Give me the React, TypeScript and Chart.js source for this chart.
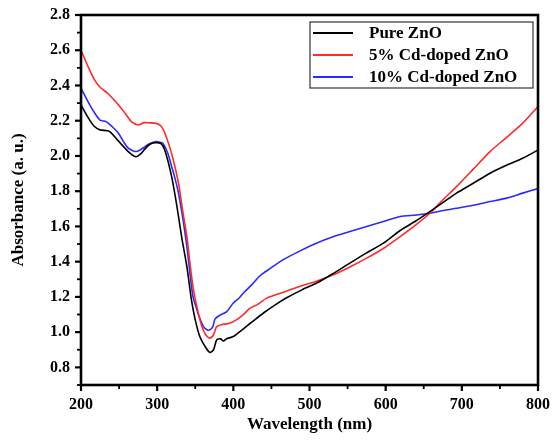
import React, { useEffect, useRef } from "react";
import { Chart, registerables } from "chart.js";

Chart.register(...registerables);

const seriesLabels = ["Pure ZnO", "5% Cd-doped ZnO", "10% Cd-doped ZnO"];
const seriesColors = ["#000000", "#ff2a2a", "#2a2aff"];

const pureWl = [200, 209, 217, 225, 237, 248, 262, 272, 278, 284, 290, 297, 305, 310, 319, 326, 332, 339, 345, 350, 356, 363, 369, 374, 378, 383, 387, 391, 400, 409, 418, 428, 440, 455, 470, 490, 510, 530, 553, 575, 597, 619, 640, 658, 675, 693, 715, 737, 760, 780, 800];
const pureAbs = [2.29, 2.22, 2.17, 2.148, 2.14, 2.09, 2.025, 1.996, 2.01, 2.04, 2.065, 2.075, 2.07, 2.034, 1.883, 1.713, 1.543, 1.372, 1.183, 1.07, 0.975, 0.918, 0.885, 0.9, 0.955, 0.962, 0.95, 0.962, 0.975, 1.005, 1.035, 1.07, 1.11, 1.155, 1.195, 1.24, 1.28, 1.33, 1.392, 1.45, 1.505, 1.577, 1.632, 1.684, 1.735, 1.789, 1.845, 1.902, 1.95, 1.987, 2.034];

const cd5Wl = [200, 210, 218, 225, 235, 245, 253, 260, 266, 275, 283, 290, 299, 305, 310, 315, 321, 328, 334, 339, 343, 347, 352, 358, 363, 369, 374, 378, 384, 395, 404, 412, 422, 431, 444, 465, 487, 510, 531, 553, 575, 597, 619, 640, 658, 675, 693, 715, 737, 760, 780, 800];
const cd5Abs = [2.6, 2.5, 2.43, 2.39, 2.356, 2.31, 2.27, 2.23, 2.195, 2.176, 2.189, 2.188, 2.185, 2.17, 2.13, 2.07, 1.98, 1.845, 1.675, 1.543, 1.392, 1.259, 1.146, 1.042, 0.99, 0.966, 0.985, 1.03, 1.042, 1.05, 1.07, 1.095, 1.136, 1.155, 1.193, 1.225, 1.259, 1.29, 1.325, 1.37, 1.42, 1.475, 1.542, 1.61, 1.675, 1.75, 1.826, 1.925, 2.025, 2.11, 2.186, 2.28];

const cd10Wl = [200, 209, 217, 225, 233, 240, 249, 256, 262, 268, 273, 278, 284, 290, 297, 304, 308, 314, 319, 323, 328, 334, 339, 343, 347, 352, 355, 361, 366, 369, 373, 376, 382, 391, 400, 408, 413, 424, 435, 448, 465, 487, 509, 530, 553, 575, 597, 619, 640, 658, 675, 693, 715, 737, 760, 780, 800];
const cd10Abs = [2.385, 2.31, 2.25, 2.204, 2.195, 2.17, 2.13, 2.08, 2.044, 2.03, 2.025, 2.035, 2.053, 2.07, 2.081, 2.078, 2.07, 2.015, 1.94, 1.88, 1.789, 1.637, 1.486, 1.335, 1.202, 1.13, 1.089, 1.03, 1.012, 1.013, 1.03, 1.075, 1.095, 1.115, 1.165, 1.195, 1.221, 1.268, 1.32, 1.36, 1.41, 1.46, 1.505, 1.54, 1.571, 1.6, 1.628, 1.656, 1.665, 1.675, 1.69, 1.703, 1.72, 1.741, 1.762, 1.789, 1.815];

const xMin = 200;
const xMax = 800;
const xStep = 50;
const xLabelStep = 100;
const yMin = 0.7;
const yMax = 2.8;
const yStep = 0.1;

const xTitle = "Wavelength (nm)";
const yTitle = "Absorbance (a. u.)";

const FONT = "'Liberation Serif', 'Times New Roman', serif";

const toPoints = (xs: number[], ys: number[]) => xs.map((x, i) => ({ x, y: ys[i] }));

const framePlugin = {
  id: "frameAndTicks",
  afterDatasetsDraw(chart: any) {
    const { ctx, chartArea, scales } = chart;
    const { left, right, top, bottom } = chartArea;
    ctx.save();
    ctx.strokeStyle = "#000";
    ctx.lineCap = "butt";
    const xs = scales.x;
    xs.ticks.forEach((t: any) => {
      const major = Math.round(t.value) % xLabelStep === 0;
      const px = xs.getPixelForValue(t.value);
      ctx.lineWidth = major ? 2.2 : 1.8;
      ctx.beginPath();
      ctx.moveTo(px, bottom);
      ctx.lineTo(px, bottom + (major ? 6 : 4));
      ctx.stroke();
    });
    const ys = scales.y;
    ys.ticks.forEach((t: any) => {
      const major = Math.round(t.value * 10) % 2 === 0;
      const py = ys.getPixelForValue(t.value);
      ctx.lineWidth = major ? 2.2 : 1.8;
      ctx.beginPath();
      ctx.moveTo(left, py);
      ctx.lineTo(left - (major ? 6 : 4), py);
      ctx.stroke();
    });
    ctx.lineWidth = 2.6;
    ctx.strokeRect(left, top, right - left, bottom - top);

    const boxRight = right - 5;
    const boxLeft = boxRight - 223;
    const boxTop = top + 7;
    const rowH = 22;
    const boxH = 66;
    ctx.fillStyle = "#fff";
    ctx.fillRect(boxLeft, boxTop, boxRight - boxLeft, boxH);
    ctx.lineWidth = 1.2;
    ctx.strokeStyle = "#333";
    ctx.strokeRect(boxLeft, boxTop, boxRight - boxLeft, boxH);
    ctx.font = `bold 17px ${FONT}`;
    ctx.textBaseline = "middle";
    ctx.textAlign = "left";
    chart.data.datasets.forEach((ds: any, i: number) => {
      const cy = boxTop + 11 + i * rowH;
      ctx.strokeStyle = ds.borderColor;
      ctx.lineWidth = 1.8;
      ctx.beginPath();
      ctx.moveTo(boxLeft + 3, cy);
      ctx.lineTo(boxLeft + 43, cy);
      ctx.stroke();
      ctx.fillStyle = "#000";
      ctx.fillText(ds.label, boxLeft + 59, cy + 1);
    });
    ctx.restore();
  },
};

export default function App() {
  const canvasRef = useRef<HTMLCanvasElement | null>(null);

  useEffect(() => {
    if (!canvasRef.current) return;
    const seriesWl = [pureWl, cd5Wl, cd10Wl];
    const seriesAbs = [pureAbs, cd5Abs, cd10Abs];
    const chart = new Chart(canvasRef.current, {
      type: "line",
      data: {
        datasets: seriesLabels.map((label, i) => ({
          label,
          data: toPoints(seriesWl[i], seriesAbs[i]),
          borderColor: seriesColors[i],
          backgroundColor: seriesColors[i],
          borderWidth: 1.6,
          pointRadius: 0,
          tension: 0.25,
          fill: false,
        })),
      },
      options: {
        animation: false,
        responsive: false,
        maintainAspectRatio: false,
        layout: { padding: { top: 15, right: 15, left: 0, bottom: 0 } },
        plugins: {
          legend: { display: false },
          tooltip: { enabled: false },
        },
        scales: {
          x: {
            type: "linear",
            min: xMin,
            max: xMax,
            afterFit: (s: any) => {
              s.height = 61;
              s.paddingLeft = 0;
              s.paddingRight = 0;
            },
            ticks: {
              stepSize: xStep,
              autoSkip: false,
              maxRotation: 0,
              padding: 10,
              color: "#000",
              font: { family: FONT, size: 16, weight: "bold" },
              callback: (v: any) => (Math.round(Number(v)) % xLabelStep === 0 ? String(v) : ""),
            },
            grid: { display: true, drawOnChartArea: false, drawTicks: false },
            border: { display: false },
            title: {
              display: true,
              text: xTitle,
              color: "#000",
              font: { family: FONT, size: 17, weight: "bold" },
              padding: { top: 0, bottom: 11 },
            },
          },
          y: {
            min: yMin,
            max: yMax,
            afterFit: (s: any) => {
              s.width = 81;
              s.paddingTop = 0;
              s.paddingBottom = 0;
            },
            ticks: {
              stepSize: yStep,
              autoSkip: false,
              padding: 11,
              color: "#000",
              font: { family: FONT, size: 16, weight: "bold" },
              callback: (v: any) => {
                const n = Number(v);
                return Math.round(n * 10) % 2 === 0 ? n.toFixed(1) : "";
              },
            },
            grid: { display: true, drawOnChartArea: false, drawTicks: false },
            border: { display: false },
            title: {
              display: true,
              text: yTitle,
              color: "#000",
              font: { family: FONT, size: 17, weight: "bold" },
              padding: { top: 8, bottom: 0 },
            },
          },
        },
      },
      plugins: [framePlugin],
    });
    return () => chart.destroy();
  }, []);

  return (
    <div style={{ position: "fixed", left: 0, top: 0, width: 553, height: 446, background: "#fff" }}>
      <canvas ref={canvasRef} width={553} height={446} />
    </div>
  );
}
